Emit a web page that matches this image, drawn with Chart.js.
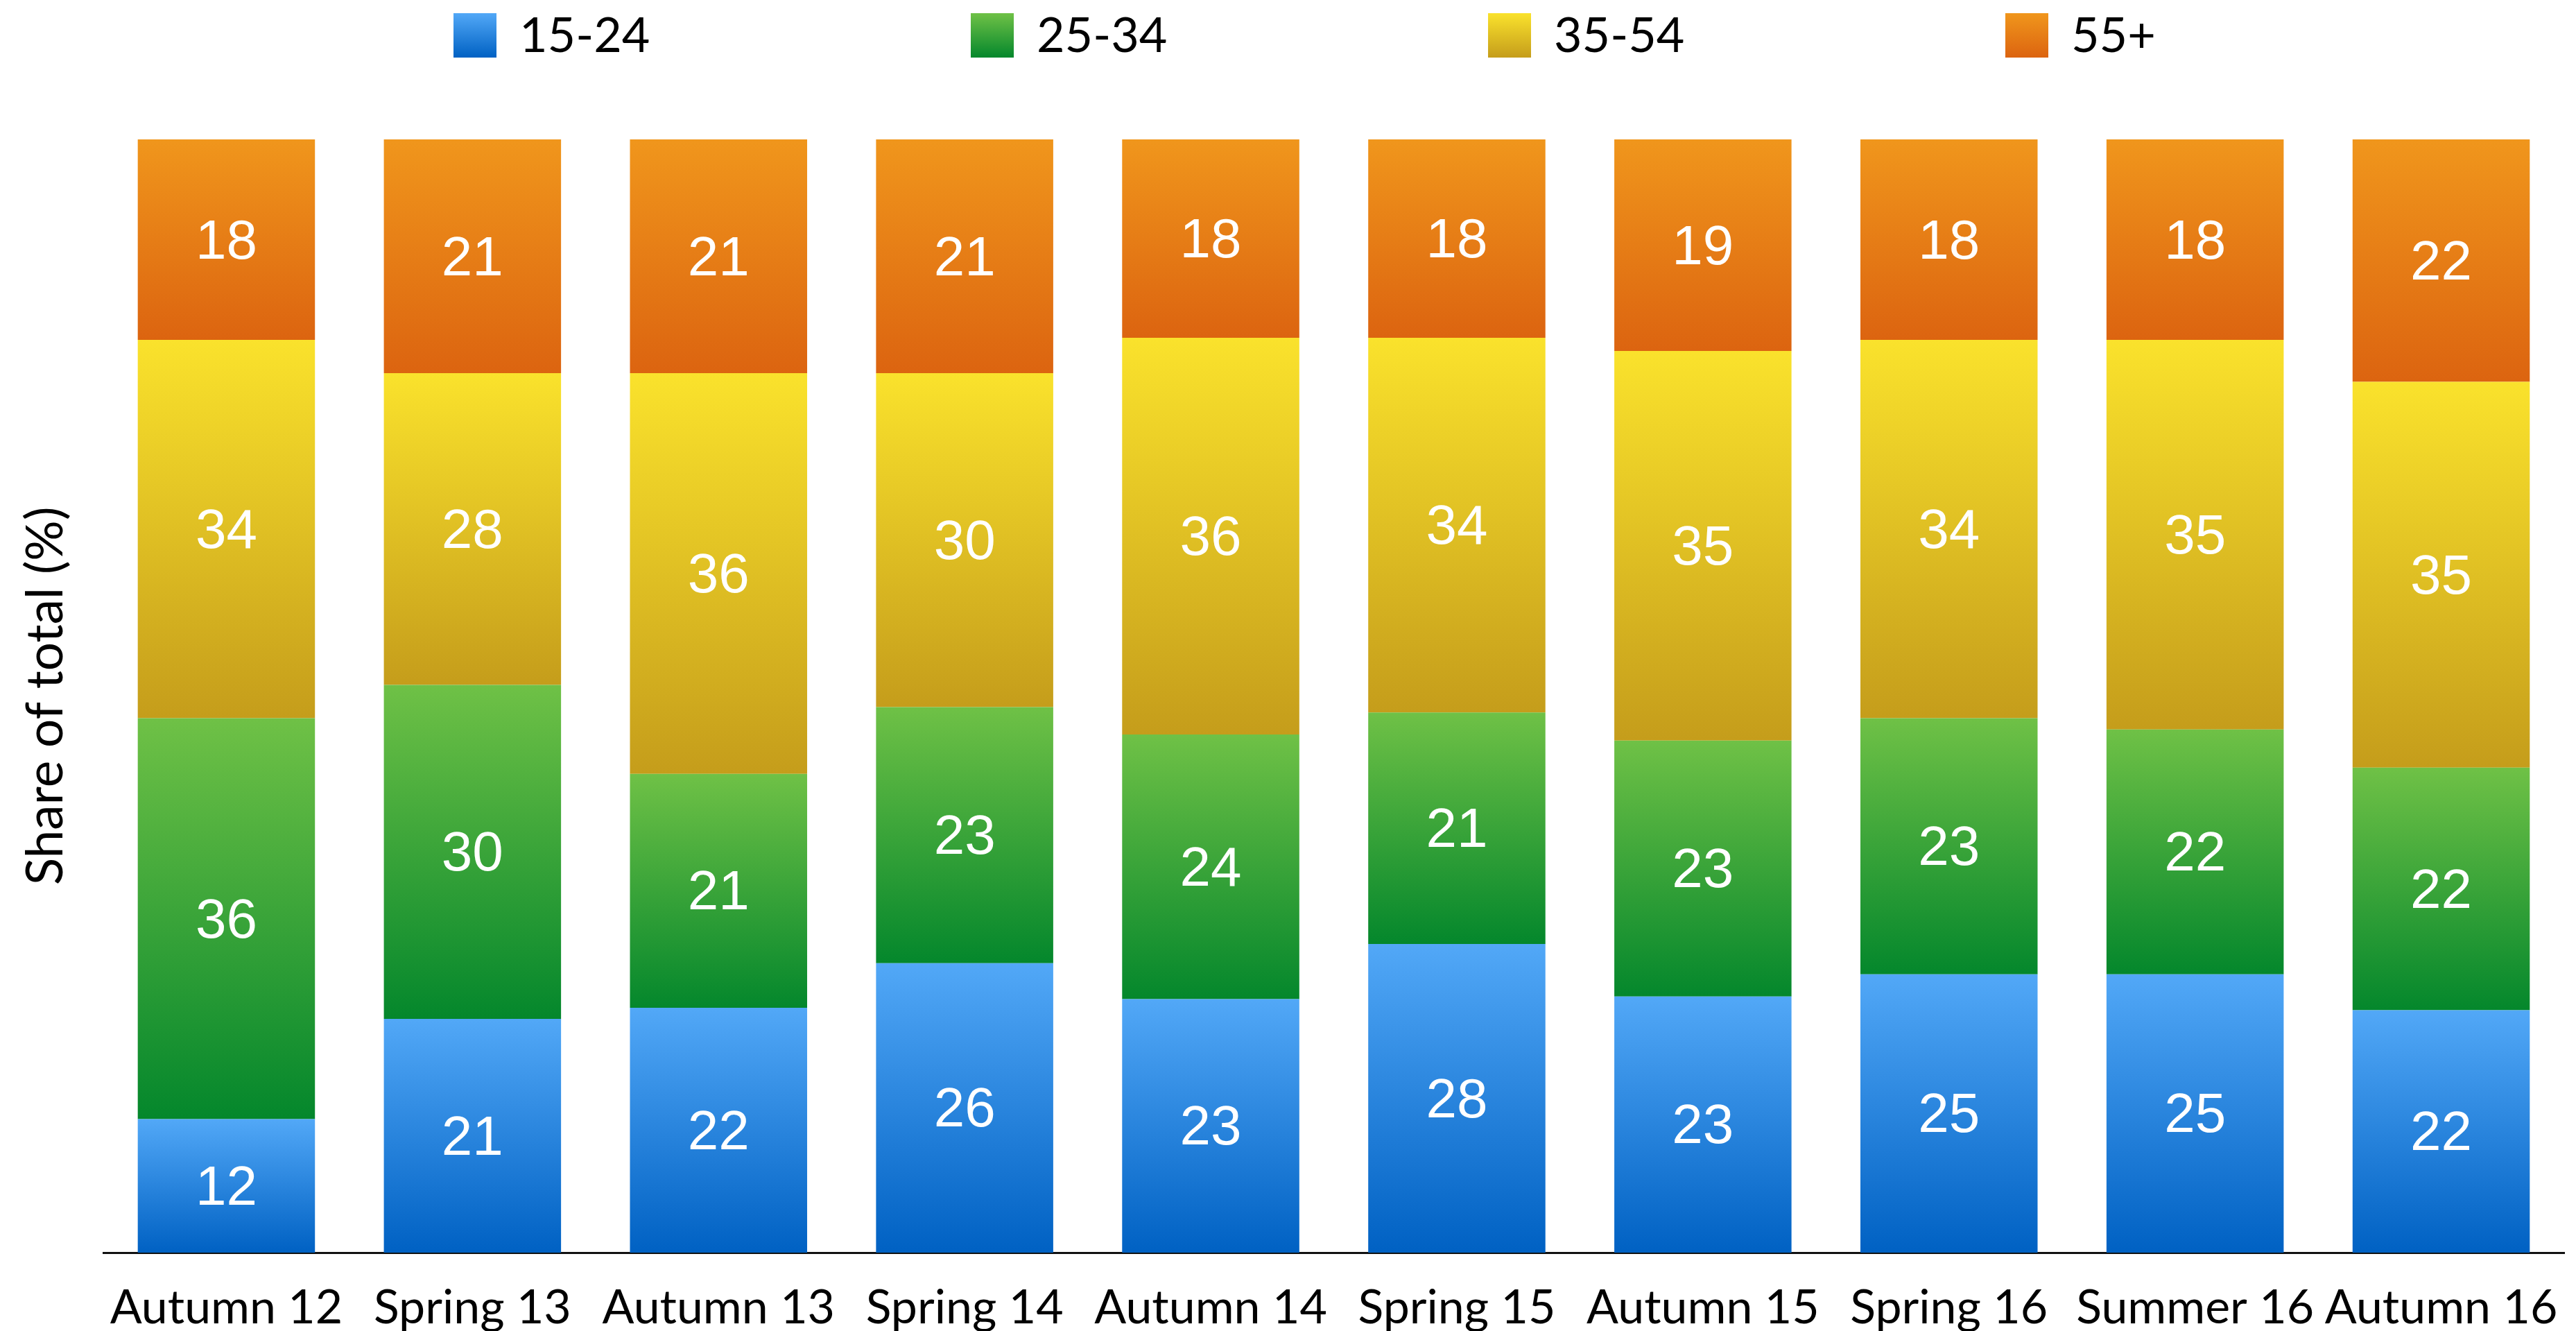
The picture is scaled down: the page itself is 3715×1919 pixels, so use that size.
<!DOCTYPE html>
<html>
<head>
<meta charset="utf-8">
<script src="https://cdn.jsdelivr.net/npm/chart.js@4/dist/chart.umd.min.js"></script>
<style>
  html, body { margin: 0; padding: 0; background: #ffffff; overflow: hidden; }
  #wrap { width: 3715px; height: 1919px; }
  canvas { display: block; }
</style>
</head>
<body>
<div id="wrap"><canvas id="chart" width="3715" height="1919"></canvas></div>
<script>
// Survey waves
const periods = ['Autumn 12', 'Spring 13', 'Autumn 13', 'Spring 14', 'Autumn 14',
                 'Spring 15', 'Autumn 15', 'Spring 16', 'Summer 16', 'Autumn 16'];

// Age-group shares per wave (%), as published (rounded)
const age15to24 = [12, 21, 22, 26, 23, 28, 23, 25, 25, 22];
const age25to34 = [36, 30, 21, 23, 24, 21, 23, 23, 22, 22];
const age35to54 = [34, 28, 36, 30, 36, 34, 35, 34, 35, 35];
const age55plus = [18, 21, 21, 21, 18, 18, 19, 18, 18, 22];

const groupNames = ['15-24', '25-34', '35-54', '55+'];
const axisTitle = 'Share of total (%)';

// Gradient colours for each group: [top, bottom]
const groupColours = [
  ['#52A8F7', '#0061C3'],
  ['#6FC146', '#04872C'],
  ['#FAE22C', '#C59D1B'],
  ['#F0961C', '#DC6410']
];

const FONT_TEXT = 'Lato, "Open Sans", sans-serif';
const FONT_VALUE = '"Liberation Sans", Arial, sans-serif';

const groupValues = [age15to24, age25to34, age35to54, age55plus];

// Each wave's stack is scaled to a full 100% column (rounded figures may add to 101)
const waveTotals = periods.map((_, i) => groupValues.reduce((s, arr) => s + arr[i], 0));
const shares = groupValues.map(arr => arr.map((v, i) => v / waveTotals[i] * 100));

function segmentGradient(colours) {
  return (ctx) => {
    const chart = ctx.chart;
    const yScale = chart.scales.y;
    if (ctx.type !== 'data' || !chart.chartArea || !yScale) return colours[0];
    let start = 0;
    for (let d = 0; d < ctx.datasetIndex; d++) start += shares[d][ctx.dataIndex];
    const end = start + shares[ctx.datasetIndex][ctx.dataIndex];
    const top = yScale.getPixelForValue(end);
    const bottom = yScale.getPixelForValue(start);
    if (!isFinite(top) || !isFinite(bottom) || top === bottom) return colours[0];
    const g = chart.ctx.createLinearGradient(0, top, 0, bottom);
    g.addColorStop(0, colours[0]);
    g.addColorStop(1, colours[1]);
    return g;
  };
}

const datasets = groupNames.map((name, k) => ({
  label: name,
  data: shares[k],
  counts: groupValues[k],
  backgroundColor: segmentGradient(groupColours[k]),
  borderWidth: 0,
  categoryPercentage: 1.0,
  barPercentage: 0.72
}));

// Legend row across the top
const topLegend = {
  id: 'topLegend',
  afterDraw(chart) {
    const ctx = chart.ctx;
    const pitch = 746, boxW = 62, boxH = 64, gap = 33;
    const boxTop = 19, midY = boxTop + boxH / 2 + 1;
    ctx.save();
    ctx.font = '70px ' + FONT_TEXT;
    let x = 654;
    groupNames.forEach((name, k) => {
      const g = ctx.createLinearGradient(0, boxTop, 0, boxTop + boxH);
      g.addColorStop(0, groupColours[k][0]);
      g.addColorStop(1, groupColours[k][1]);
      ctx.fillStyle = g;
      ctx.fillRect(x, boxTop, boxW, boxH);
      ctx.fillStyle = '#000000';
      ctx.textAlign = 'left';
      ctx.textBaseline = 'middle';
      ctx.fillText(name, x + boxW + gap, midY);
      x += pitch;
    });
    ctx.restore();
  }
};

// Rotated y-axis title, centred on the plot area
const yTitle = {
  id: 'yTitle',
  afterDraw(chart) {
    const ctx = chart.ctx;
    const area = chart.chartArea;
    ctx.save();
    ctx.translate(66, (area.top + area.bottom) / 2);
    ctx.rotate(-Math.PI / 2);
    ctx.font = '73px ' + FONT_TEXT;
    ctx.fillStyle = '#000000';
    ctx.textAlign = 'center';
    ctx.textBaseline = 'middle';
    ctx.fillText(axisTitle, 0, 0);
    ctx.restore();
  }
};

// White value labels in the middle of each segment
const segmentLabels = {
  id: 'segmentLabels',
  afterDatasetsDraw(chart) {
    const ctx = chart.ctx;
    ctx.save();
    ctx.font = '80px ' + FONT_VALUE;
    ctx.fillStyle = '#ffffff';
    ctx.textAlign = 'center';
    ctx.textBaseline = 'middle';
    chart.data.datasets.forEach((ds, d) => {
      const meta = chart.getDatasetMeta(d);
      meta.data.forEach((bar, i) => {
        const p = bar.getProps(['x', 'y', 'base'], true);
        ctx.fillText(String(ds.counts[i]), p.x, (p.y + p.base) / 2 + 5);
      });
    });
    ctx.restore();
  }
};

new Chart(document.getElementById('chart'), {
  type: 'bar',
  data: { labels: periods, datasets },
  options: {
    responsive: false,
    animation: false,
    devicePixelRatio: 1,
    layout: { autoPadding: false, padding: { left: 149, right: 17, top: 201, bottom: 0 } },
    plugins: {
      legend: { display: false },
      tooltip: { enabled: false }
    },
    scales: {
      x: {
        stacked: true,
        offset: true,
        grid: { display: false, drawTicks: false },
        border: { display: true, color: '#111111', width: 3 },
        ticks: {
          color: '#000000',
          font: { family: FONT_TEXT, size: 68, lineHeight: 0.9 },
          padding: 49,
          maxRotation: 0,
          autoSkip: false
        },
        afterFit(scale) {
          scale.height = 113;
          scale.paddingLeft = 0;
          scale.paddingRight = 0;
        }
      },
      y: {
        stacked: true,
        display: false,
        min: 0,
        max: 100
      }
    }
  },
  plugins: [segmentLabels, topLegend, yTitle]
});
</script>
</body>
</html>
